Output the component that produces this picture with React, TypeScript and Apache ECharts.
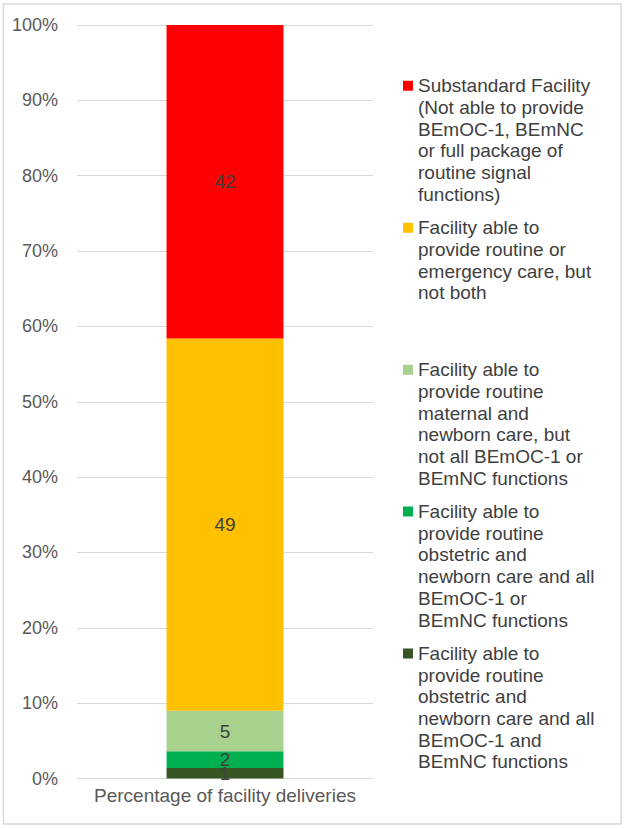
import React, { useEffect, useRef } from 'react';
import * as echarts from 'echarts';

const categories = ['Percentage of facility deliveries'];

// stack order: bottom to top
const seriesNames = [
  'Facility able to\nprovide routine\nobstetric and\nnewborn care and all\nBEmOC-1 and\nBEmNC functions',
  'Facility able to\nprovide routine\nobstetric and\nnewborn care and all\nBEmOC-1 or\nBEmNC functions',
  'Facility able to\nprovide routine\nmaternal and\nnewborn care, but\nnot all BEmOC-1 or\nBEmNC functions',
  'Facility able to\nprovide routine or\nemergency care, but\nnot both',
  'Substandard Facility\n(Not able to provide\nBEmOC-1, BEmNC\nor full package of\nroutine signal\nfunctions)',
];
const seriesValues = [1.4, 2.2, 5.4, 49.4, 41.6];
const seriesColors = ['#375623', '#00B050', '#A9D18E', '#FFC000', '#FF0000'];

const FONT = '"Liberation Sans", Arial, sans-serif';

export default function App() {
  const ref = useRef<HTMLDivElement>(null);

  useEffect(() => {
    if (!ref.current) return;
    const chart = echarts.init(ref.current, null, { renderer: 'svg' });
    const LINE_H = 21.7;
    const option: any = {
      animation: false,
      backgroundColor: '#ffffff',
      textStyle: { fontFamily: FONT },
      graphic: [
        {
          type: 'rect',
          shape: { x: 3.5, y: 4, width: 617.5, height: 820 },
          style: { fill: 'none', stroke: '#d9d9d9', lineWidth: 1.5 },
          silent: true,
        },
      ],
      grid: { left: 77, right: 252, top: 25, bottom: 50.5 },
      legend: {
        orient: 'vertical',
        left: 403,
        top: 75,
        padding: 0,
        itemGap: 11.7,
        itemWidth: 10,
        itemHeight: 130,
        icon: 'path://M0,0h0.01v0.01h-0.01zM0,5.75h10v10h-10zM0,130h0.01v0.01h-0.01z',
        data: [...seriesNames].reverse(),
        selectedMode: false,
        formatter: (name: string) => {
          const n = name.split('\n').length;
          let s = name;
          for (let i = n; i < 6; i++) s += '\n ';
          return s;
        },
        textStyle: {
          fontFamily: FONT,
          fontSize: 19,
          lineHeight: LINE_H,
          color: '#404040',
        },
      },
      xAxis: {
        type: 'category',
        data: categories,
        axisLine: { show: true, lineStyle: { color: '#d9d9d9', width: 1 } },
        axisTick: { show: false },
        axisLabel: { fontFamily: FONT, fontSize: 19, color: '#595959', margin: 7 },
      },
      yAxis: {
        type: 'value',
        min: 0,
        max: 100,
        interval: 10,
        axisLine: { show: false },
        axisTick: { show: false },
        splitLine: { lineStyle: { color: '#d9d9d9', width: 1 } },
        axisLabel: {
          fontFamily: FONT,
          fontSize: 18,
          color: '#595959',
          margin: 19,
          formatter: '{value}%',
        },
      },
      series: seriesNames.map((name, i) => ({
        name,
        type: 'bar',
        stack: 'total',
        barWidth: '39.5%',
        data: [seriesValues[i]],
        itemStyle: { color: seriesColors[i] },
        label: {
          show: true,
          position: 'inside',
          fontFamily: FONT,
          fontSize: 19,
          color: '#404040',
          formatter: (p: any) => String(Math.round(p.value)),
        },
      })),
    };
    chart.setOption(option);
    return () => chart.dispose();
  }, []);

  return (
    <div
      ref={ref}
      style={{ position: 'fixed', left: 0, top: 0, width: 625, height: 829 }}
    />
  );
}
